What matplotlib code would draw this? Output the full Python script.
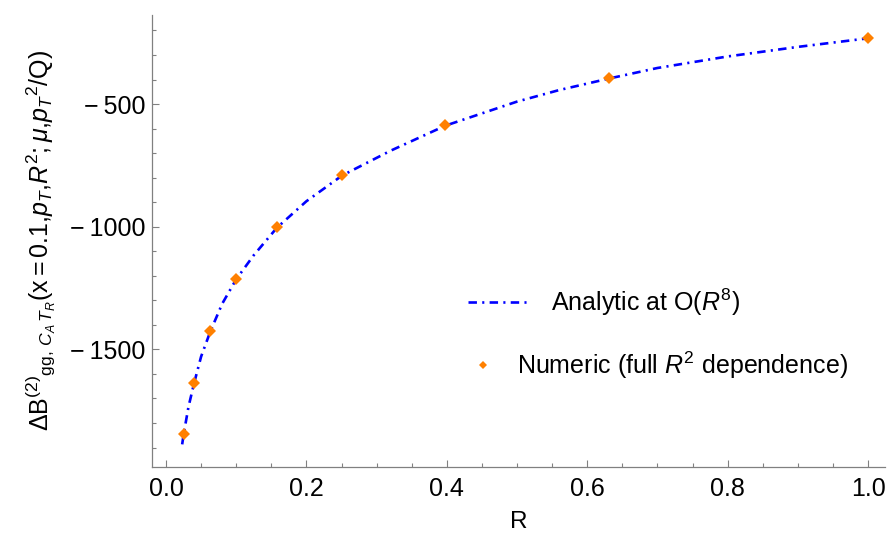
import matplotlib
matplotlib.use("Agg")
import matplotlib.pyplot as plt
from matplotlib.ticker import MultipleLocator, FuncFormatter

plt.rcParams['font.family'] = ['Liberation Sans', 'DejaVu Sans']
plt.rcParams['mathtext.fontset'] = 'custom'
plt.rcParams['mathtext.rm'] = 'Liberation Sans'
plt.rcParams['mathtext.it'] = 'Liberation Sans:italic'
plt.rcParams['mathtext.bf'] = 'Liberation Sans:bold'
plt.rcParams['mathtext.sf'] = 'Liberation Sans'

# numeric evaluation (full R^2 dependence)
R_numeric = [0.025, 0.0398, 0.0631, 0.1, 0.158, 0.251, 0.398, 0.631, 1.0]
dB_numeric = [-1845, -1637, -1425, -1212, -1002, -789, -586, -394, -231]

# analytic expansion to O(R^8), sampled along R
R_analytic = [0.023, 0.025, 0.032, 0.0398, 0.05, 0.0631, 0.08, 0.1, 0.125,
              0.158, 0.2, 0.251, 0.32, 0.398, 0.45, 0.5, 0.56, 0.631,
              0.7, 0.8, 0.9, 1.0]
dB_analytic = [-1887, -1848, -1734, -1640, -1529, -1427, -1314, -1214, -1116,
               -1004, -896, -791, -690, -588, -538, -490, -443, -396,
               -353, -306, -267, -232]

grey = '#808080'


def y_fmt(v, pos):
    s = '%d' % abs(v)
    return ('\u2212\u2009' + s) if v < 0 else s


fig = plt.figure(figsize=(8.88, 5.41), dpi=100)
ax = fig.add_axes([151.7 / 888, 1 - 466.7 / 541, (885 - 151.7) / 888, (466.7 - 15) / 541])

line, = ax.plot(R_analytic, dB_analytic, color='#0000FF', lw=1.9,
                linestyle=(0, (3.2, 2.0, 0.8, 2.0)), dash_capstyle='butt')
pts, = ax.plot(R_numeric, dB_numeric, linestyle='none', marker='D', ms=6,
               mew=0, color='#FF8000', zorder=3)

ax.set_xlim(-0.0204, 1.0242)
ax.set_ylim(-1978, -137)

for side in ['top', 'right']:
    ax.spines[side].set_visible(False)
for side in ['left', 'bottom']:
    ax.spines[side].set_color(grey)
    ax.spines[side].set_linewidth(0.9)

ax.xaxis.set_major_locator(MultipleLocator(0.2))
ax.xaxis.set_minor_locator(MultipleLocator(0.05))
ax.xaxis.set_major_formatter(FuncFormatter(lambda v, p: '%.1f' % v))
ax.yaxis.set_major_locator(MultipleLocator(500))
ax.yaxis.set_minor_locator(MultipleLocator(100))
ax.yaxis.set_major_formatter(FuncFormatter(y_fmt))

ax.tick_params(which='both', direction='in', color=grey, width=0.8, labelsize=18)
ax.tick_params(which='major', length=5)
ax.tick_params(which='minor', length=3.2)
ax.tick_params(axis='x', which='major', pad=7.5)
ax.tick_params(axis='y', which='major', pad=4.5)

ax.set_xlabel('R', fontsize=17.5, labelpad=7)
ax.set_ylabel(r'$\Delta\mathrm{B}^{(2)}{}_{\mathrm{gg},\,C_A\,T_R}(\mathrm{x}{=}0.1{,}p_T{,}R^2{;}\mu{,}p_T{}^2/\mathrm{Q})$',
              fontsize=18, labelpad=9)

leg1 = ax.legend([line], [r'Analytic at O($R^8$)'], loc='center left',
                 bbox_to_anchor=(0.4313, 0.3646), frameon=False, fontsize=18,
                 borderpad=0, borderaxespad=0, handlelength=2.45, handletextpad=0.88)
ax.add_artist(leg1)
ax.legend([pts], [r'Numeric (full $R^2$ dependence)'], loc='center left',
          bbox_to_anchor=(0.4347, 0.2252), frameon=False, fontsize=18,
          borderpad=0, borderaxespad=0, handlelength=1.0, handletextpad=0.86,
          markerscale=0.75)

fig.savefig('out.png', dpi=100)
